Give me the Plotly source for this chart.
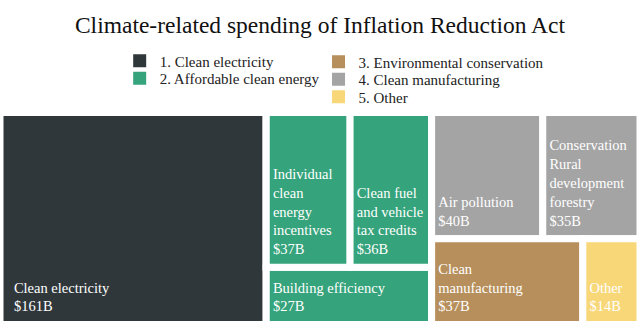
import plotly.graph_objects as go

# ---- data ----
leaf_labels = [
    "Clean electricity",
    "Individual clean energy incentives",
    "Clean fuel and vehicle tax credits",
    "Building efficiency",
    "Air pollution",
    "Conservation Rural development forestry",
    "Clean manufacturing",
    "Other",
]
leaf_lines = [
    ["Clean electricity"],
    ["Individual", "clean", "energy", "incentives"],
    ["Clean fuel", "and vehicle", "tax credits"],
    ["Building efficiency"],
    ["Air pollution"],
    ["Conservation", "Rural", "development", "forestry"],
    ["Clean", "manufacturing"],
    ["Other"],
]
leaf_values = [161, 37, 36, 27, 40, 35, 37, 14]
leaf_parent = ["root", "g2a", "g2a", "g2", "g3a", "g3a", "g3b", "g3b"]
leaf_colors = ["#30373b", "#35a37b", "#35a37b", "#35a37b", "#a4a4a4", "#a4a4a4", "#b68f5c", "#f8d778"]

# grouping nodes (id, parent)
group_ids = ["root", "g2", "g2a", "g3", "g3a", "g3b"]
group_parent = ["", "root", "g2", "root", "g3", "g3"]

# node order used for the treemap (siblings are laid out in this order)
node_order = ["root", "Clean electricity", "g2", "g2a",
              "Individual clean energy incentives", "Clean fuel and vehicle tax credits",
              "Building efficiency", "g3", "g3a", "Air pollution",
              "Conservation Rural development forestry", "g3b",
              "Clean manufacturing", "Other"]

legend_names = ["1. Clean electricity", "2. Affordable clean energy",
                "3. Environmental conservation", "4. Clean manufacturing", "5. Other"]
legend_colors = ["#30373b", "#35a37b", "#b68f5c", "#a4a4a4", "#f8d778"]

# ---- build hierarchy ----
parent_of = dict(zip(group_ids, group_parent))
parent_of.update(zip(leaf_labels, leaf_parent))
vals = dict(zip(leaf_labels, leaf_values))
children = {}
for n in node_order:
    children.setdefault(parent_of[n], []).append(n)

def total(node):
    if node in vals:
        return vals[node]
    return sum(total(c) for c in children.get(node, []))

ids = node_order
parents = [parent_of[n] for n in ids]
values = [total(n) for n in ids]
color_of = dict(zip(leaf_labels, leaf_colors))
colors = [color_of.get(n, "#ffffff") for n in ids]

lines_of = dict(zip(leaf_labels, leaf_lines))
def make_text(n):
    if n not in vals:
        return ""
    pad = "\u00a0\u00a0\u00a0" if n == "Clean electricity" else "\u00a0"
    return "<br>".join(pad + s for s in lines_of[n] + [f"${vals[n]}B"])
texts = [make_text(n) for n in ids]

font = "Liberation Serif"
y0, y1 = 0.0167, 0.659
lift = 7 / 330

fig = go.Figure()
# coloured tiles
fig.add_trace(go.Treemap(
    ids=ids, labels=ids, parents=parents, values=values,
    branchvalues="total", textinfo="none",
    marker=dict(colors=colors, line=dict(color="white", width=7),
                pad=dict(t=0, l=0, r=0, b=0)),
    tiling=dict(packing="slice-dice", pad=0),
    pathbar=dict(visible=False), hoverinfo="skip", sort=False,
    domain=dict(x=[0, 1], y=[y0, y1]),
))
# labels (same layout, transparent tiles, nudged up for inner padding)
fig.add_trace(go.Treemap(
    ids=ids, labels=ids, parents=parents, values=values,
    branchvalues="total",
    text=texts, textinfo="text", textposition="bottom left",
    textfont=dict(family=font, size=14.5, color="white"),
    marker=dict(colors=["rgba(0,0,0,0)"] * len(ids),
                line=dict(color="rgba(0,0,0,0)", width=0),
                pad=dict(t=0, l=0, r=0, b=0)),
    tiling=dict(packing="slice-dice", pad=0),
    pathbar=dict(visible=False), hoverinfo="skip", sort=False,
    domain=dict(x=[0, 1], y=[y0 + lift, y1 + lift]),
))

legend_pos = [(0.187, 61), (0.187, 78.5), (0.4977, 62), (0.4977, 79.5), (0.4977, 97)]
legend_layout = {}
for k, (name, col, (lx, ly)) in enumerate(zip(legend_names, legend_colors, legend_pos)):
    key = "legend" if k == 0 else f"legend{k + 1}"
    fig.add_trace(go.Scatter(
        x=[None], y=[None], mode="markers", name=name,
        marker=dict(symbol="square", size=13, color=col),
        legend=key, showlegend=True, hoverinfo="skip",
    ))
    legend_layout[key] = dict(
        x=lx, y=1 - ly / 330, xanchor="left", yanchor="middle",
        font=dict(family=font, size=15, color="#222222"),
        bgcolor="rgba(0,0,0,0)", itemclick=False, itemdoubleclick=False,
    )

fig.update_layout(
    width=640, height=330,
    margin=dict(l=0, r=0, t=0, b=0),
    paper_bgcolor="white", plot_bgcolor="white",
    font=dict(family=font),
    title=dict(text="Climate-related spending of Inflation Reduction Act",
               x=0.5, xanchor="center", y=0.925, yanchor="middle",
               font=dict(family=font, size=23.5, color="#111111")),
    xaxis=dict(visible=False), yaxis=dict(visible=False),
    uniformtext=dict(minsize=14.5, mode="show"),
    **legend_layout,
)

fig.write_html("out.html")
